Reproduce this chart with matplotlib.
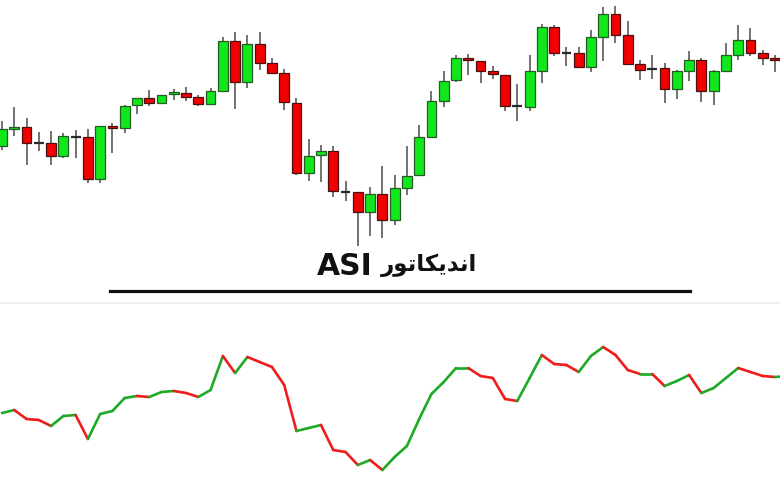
import matplotlib
matplotlib.use("Agg")
import matplotlib.pyplot as plt
from matplotlib.collections import LineCollection
from matplotlib.patches import Rectangle
import numpy as np

# ---- candle data (price units) ----
opens  = [103,120,122,106,106, 93,112,112, 70,122,121,144,151,146,155,156,152,145,158,208,
          167,205,186,176,146, 76, 94, 98, 57, 57, 37, 55, 29, 61, 74,112,148,169,191,188,
          178,174,143,142,178,222,196,196,182,212,235,214,185,180,181,160,178,189,158,178,
          194,209,196,190]
highs  = [128,142,131,117,118,116,119,120,123,126,144,151,159,154,160,162,154,161,212,217,
          214,217,191,180,151,110,104,103, 68, 57, 62, 83, 74,103,124,158,178,194,195,188,
          183,174,165,194,225,224,202,202,219,242,243,228,189,194,186,179,198,191,179,206,
          224,221,199,194]
lows   = [ 99,113, 84, 98, 84, 91, 91, 66, 66, 96,116,135,143,146,149,148,143,144,158,140,
          161,179,176,139, 74, 68, 67, 52, 48,  3, 13, 11, 24, 54, 74,112,142,167,174,166,
          170,138,128,138,166,193,183,182,177,188,206,184,169,170,146,150,168,147,144,177,
          189,193,184,177]
closes = [120,122,106,106, 93,113,112, 70,123,121,143,151,146,154,156,152,145,158,208,167,
          205,186,176,147, 76, 93, 98, 58, 57, 37, 55, 29, 61, 73,112,148,168,191,189,178,
          175,143,143,178,222,196,196,182,212,235,214,185,179,180,160,178,189,158,178,194,
          209,196,191,189]

# ---- ASI indicator values ----
asi = [67, 70, 61, 60, 54, 64, 65, 41, 66, 69, 82, 84, 83, 88, 89, 87, 83, 90,124,107,
       123,118,113, 95, 49, 52, 55, 30, 28, 15, 20, 10, 23, 34, 61, 86, 98,112,112,104,
       102, 81, 79,102,125,116,115,108,124,133,125,110,106,106, 94, 99,105, 87, 92,102,
       112,108,104,103,104]

title_fa = "اندیکاتور"
title_en = "ASI"

# Persian shaping (presentation forms, visual order) for matplotlib
shaped_fa = "\uFEAD\uFEEE\uFE97\uFE8E\uFB91\uFBFE\uFEAA\uFEE7\uFE8D"

W, H = 780, 481
fig = plt.figure(figsize=(W/100, H/100), dpi=100)
fig.patch.set_facecolor("white")

step = 12.27
x0 = 2.0
xlim = (-x0/step, (W - x0)/step)

# top candle axes: pixel rows 0..250
ax = fig.add_axes([0, (H-250)/H, 1, 250/H])
ax.set_xlim(*xlim)
ax.set_ylim(0, 250)
ax.axis("off")

green = "#10e81c"
red = "#f20000"
bw = 0.8
for i, (o, h, l, c) in enumerate(zip(opens, highs, lows, closes)):
    ax.plot([i, i], [l, h], color="#5a5a5a", lw=1.2, zorder=1, solid_capstyle="butt")
    if o == c:
        ax.plot([i - bw/2, i + bw/2], [o, o], color="#2a2a2a", lw=1.6, zorder=2,
                solid_capstyle="butt")
        continue
    up = c > o
    bottom = min(o, c)
    height = max(abs(c - o), 1.8)
    ax.add_patch(Rectangle((i - bw/2, bottom), bw, height,
                           facecolor=green if up else red,
                           edgecolor="#245c24" if up else "#4a1010",
                           lw=0.9, zorder=2))

# bottom ASI axes: pixel rows 330..481
ax2 = fig.add_axes([0, 0, 1, 151/H])
ax2.set_xlim(*xlim)
ax2.set_ylim(0, 151)
ax2.axis("off")
xs = np.arange(len(asi))
ys = np.array(asi, dtype=float)
segs = [[(xs[k], ys[k]), (xs[k+1], ys[k+1])] for k in range(len(asi) - 1)]
cols = ["#1eaa24" if ys[k+1] >= ys[k] else "#ee1c1c" for k in range(len(asi) - 1)]
lc = LineCollection(segs, colors=cols, linewidths=1.9, capstyle="round", joinstyle="round")
ax2.add_collection(lc)

# title (RTL: Persian on the right, ASI on the left) and separators
fig.text(345/W, 1 - 267/H, title_en, ha="center", va="center",
         fontsize=21.5, fontweight="bold", family="DejaVu Sans", color="#111111")
fig.text(429/W, 1 - 265/H, shaped_fa, ha="center", va="center",
         fontsize=16.5, fontweight="bold", family="DejaVu Sans", color="#111111")
fig.add_artist(plt.Line2D([110/W, 690/W], [1 - 292/H, 1 - 292/H], color="#111111", lw=2.3))
fig.add_artist(plt.Line2D([0, 1], [1 - 304/H, 1 - 304/H], color="#eeeeee", lw=1.5))

fig.savefig("out.png", dpi=100, facecolor="white")
